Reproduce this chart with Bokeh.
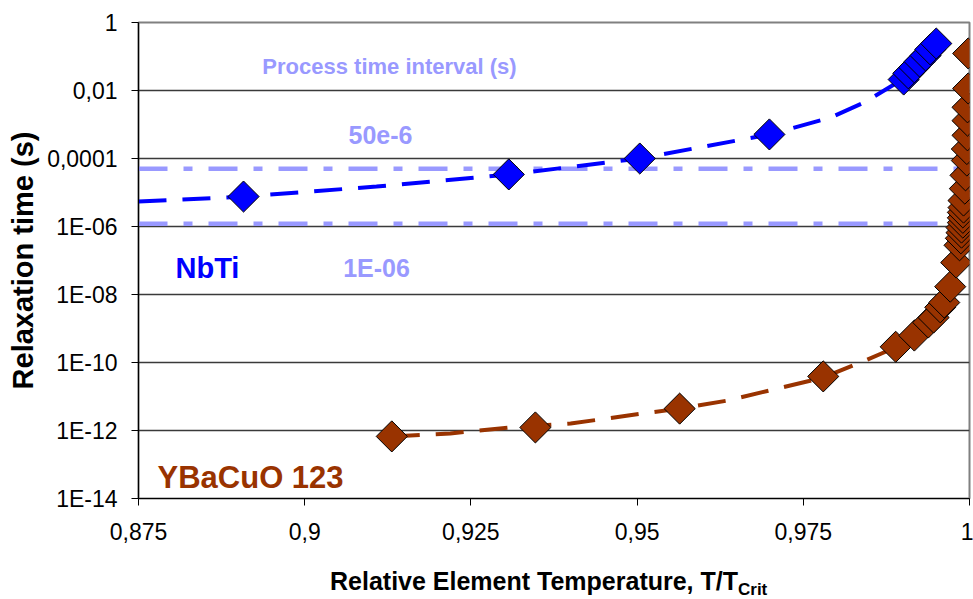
import math
import json
from bokeh.plotting import figure
from bokeh.models import Range1d, FixedTicker, CustomJSTickFormatter, Span, Label, Div
from bokeh.layouts import column
from bokeh.embed import file_html
from bokeh.resources import INLINE

# ---------------- data ----------------
x_ticks = [0.875, 0.9, 0.925, 0.95, 0.975, 1.0]
x_tick_labels = ["0,875", "0,9", "0,925", "0,95", "0,975", "1"]
y_ticks = [1e-14, 1e-12, 1e-10, 1e-8, 1e-6, 1e-4, 1e-2, 1.0]
y_tick_labels = ["1E-14", "1E-12", "1E-10", "1E-08", "1E-06", "0,0001", "0,01", "1"]

# NbTi measured points
nbti_t = [0.8908, 0.9307, 0.9504, 0.9699, 0.9901, 0.9908, 0.9917, 0.9925, 0.9934, 0.9941, 0.9950]
nbti_tau = [7.6e-6, 3.4e-5, 1.0e-4, 5.1e-4, 2.1e-2, 3.2e-2, 4.8e-2, 7.1e-2, 1.07e-1, 1.61e-1, 2.41e-1]
# NbTi trend line
nbti_fit_t = [0.875, 0.8909, 0.9108, 0.9308, 0.9504, 0.9699, 0.9791, 0.9844, 0.9889]
nbti_fit_tau = [5.4e-6, 7.6e-6, 1.5e-5, 3.4e-5, 1.0e-4, 5.1e-4, 1.6e-3, 4.7e-3, 1.6e-2]

# YBaCuO 123 measured points
ybco_t = [0.9131, 0.9347, 0.9564, 0.9780, 0.9889, 0.9917, 0.9938, 0.9946, 0.9956, 0.9962,
          0.9971, 0.9980, 0.9985, 0.9987, 0.9988, 0.9988, 0.9990, 0.9990, 0.9990, 0.9991,
          0.9991, 0.9993, 0.9994, 0.9996, 0.9996, 0.9997, 0.9997, 0.9997, 0.9998, 0.9998]
ybco_tau = [6.7e-13, 1.23e-12, 4.4e-12, 3.9e-11, 2.9e-10, 6.2e-10, 1.5e-9, 2.1e-9, 4.2e-9, 5.8e-9,
            1.7e-8, 8.7e-8, 2.8e-7, 4.5e-7, 6.6e-7, 9.3e-7, 1.3e-6, 1.8e-6, 2.6e-6, 3.6e-6,
            5.8e-6, 1.3e-5, 3.2e-5, 8.7e-5, 1.9e-4, 4.8e-4, 1.3e-3, 3.2e-3, 1.15e-2, 1.23e-1]
# YBaCuO trend line
ybco_fit_t = [0.9131, 0.9219, 0.9307, 0.9400, 0.9510, 0.9564, 0.9636, 0.9780, 0.9836, 0.9878]
ybco_fit_tau = [6.7e-13, 8.2e-13, 1.22e-12, 1.6e-12, 3.2e-12, 4.4e-12, 7.6e-12, 3.6e-11, 1.0e-10, 2.25e-10]

# process time interval limits (s)
process_limits = [5e-5, 1.2e-6]

# ---------------- styling ----------------
FONT = "Liberation Sans"
BLUE = "#0000FF"
BROWN = "#993300"
LAV = "#9999FF"

p = figure(width=973, height=555,
           x_range=Range1d(0.875, 1.0), y_range=Range1d(1e-14, 1.0),
           y_axis_type="log", output_backend="svg", toolbar_location=None,
           min_border_left=138, min_border_right=4, min_border_top=22, min_border_bottom=57)
p.background_fill_color = "white"
p.border_fill_color = "white"
p.outline_line_color = "#808080"
p.outline_line_width = 2

# axes
xm = {str(round(t * 1000)): l for t, l in zip(x_ticks, x_tick_labels)}
ym = {str(round(math.log10(t))): l for t, l in zip(y_ticks, y_tick_labels)}
p.xaxis.ticker = FixedTicker(ticks=x_ticks, minor_ticks=[])
p.xaxis.formatter = CustomJSTickFormatter(code="const m = %s; return m[String(Math.round(tick*1000))];" % json.dumps(xm))
p.yaxis.ticker = FixedTicker(ticks=y_ticks, minor_ticks=[])
p.yaxis.formatter = CustomJSTickFormatter(code="const m = %s; return m[String(Math.round(Math.log10(tick)))];" % json.dumps(ym))

for ax in (p.xaxis, p.yaxis):
    ax.major_label_text_font = FONT
    ax.major_label_text_font_size = "23px"
    ax.major_label_text_color = "black"
    ax.axis_line_color = "black"
    ax.axis_line_width = 1.2
    ax.major_tick_line_color = "black"
    ax.major_tick_in = 0
    ax.major_tick_out = 7
    ax.minor_tick_line_color = None
p.yaxis.major_label_standoff = 14
p.xaxis.major_label_standoff = 17

p.yaxis.axis_label = "Relaxation time (s)"
p.yaxis.axis_label_text_font = FONT
p.yaxis.axis_label_text_font_size = "29px"
p.yaxis.axis_label_text_font_style = "bold"
p.yaxis.axis_label_text_color = "black"
p.yaxis.axis_label_standoff = 5

p.xgrid.grid_line_color = None
p.ygrid.grid_line_color = "#3a3a3a"
p.ygrid.grid_line_width = 1.3

# process interval lines
for v in process_limits:
    p.add_layout(Span(location=v, dimension="width", line_color=LAV, line_width=4.5,
                      line_dash="29 16 9 16", level="underlay"))

# trend lines
p.line(nbti_fit_t, nbti_fit_tau, line_color=BLUE, line_width=4, line_dash="28 16")
p.line(ybco_fit_t, ybco_fit_tau, line_color=BROWN, line_width=4, line_dash="28 16")

# markers
p.scatter(nbti_t, nbti_tau, marker="square", angle=math.pi / 4, size=22,
          fill_color=BLUE, line_color="black", line_width=1)
p.scatter(ybco_t, ybco_tau, marker="square", angle=math.pi / 4, size=22,
          fill_color=BROWN, line_color="black", line_width=1)

# texts (screen units relative to the frame's bottom-left)
def lab(text, x, y, size, color, align="left"):
    p.add_layout(Label(x=x, y=y, x_units="screen", y_units="screen", text=text,
                       text_font=FONT, text_font_size=size, text_color=color,
                       text_font_style="bold", text_align=align, text_baseline="alphabetic"))

lab("Process time interval (s)", 251, 432, "22px", LAV, align="center")
lab("50e-6", 242, 364, "25px", LAV, align="center")
lab("1E-06", 238, 231, "25px", LAV, align="center")
lab("NbTi", 37, 231, "29px", BLUE)
lab("YBaCuO 123", 19, 21, "31px", BROWN)

# x axis title with subscript, as real HTML text below the plot
xtitle = Div(
    text=('<div style="padding-left:330px; padding-top:14px; font-family:\'Liberation Sans\'; '
          'font-weight:bold; font-size:25px; line-height:25px; white-space:nowrap; color:black;">'
          'Relative Element Temperature, T/T'
          '<span style="font-size:17px; position:relative; top:5px;">Crit</span></div>'),
    width=973, height=44, margin=(0, 0, 0, 0))

layout = column(p, xtitle, spacing=0)
open("out.html", "w").write(file_html(layout, INLINE))
